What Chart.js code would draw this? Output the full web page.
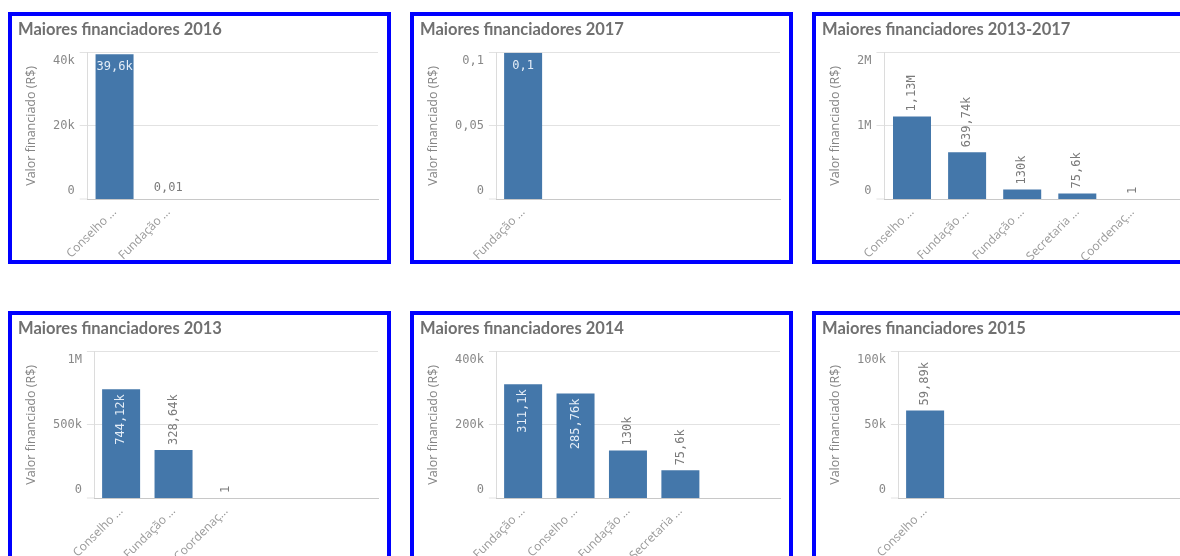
<!DOCTYPE html>
<html lang="pt-BR">
<head>
<meta charset="utf-8">
<title>Maiores financiadores</title>
<script src="https://cdn.jsdelivr.net/npm/chart.js@4.4.1/dist/chart.umd.min.js"></script>
<style>
  html, body { margin: 0; padding: 0; background: #fff; }
  body { width: 1180px; height: 556px; overflow: hidden; position: relative; }
  .panel { position: absolute; width: 383px; height: 252px; box-sizing: border-box; border: 4px solid #0000ff; background: #fff; }
  .panel canvas { display: block; }
</style>
</head>
<body>
  <div class="panel" style="left:8px;top:12px"><canvas id="c2016" width="375" height="244"></canvas></div>
  <div class="panel" style="left:410px;top:12px"><canvas id="c2017" width="375" height="244"></canvas></div>
  <div class="panel" style="left:812px;top:12px"><canvas id="cTotal" width="375" height="244"></canvas></div>
  <div class="panel" style="left:8px;top:311px"><canvas id="c2013" width="375" height="244"></canvas></div>
  <div class="panel" style="left:410px;top:311px"><canvas id="c2014" width="375" height="244"></canvas></div>
  <div class="panel" style="left:812px;top:311px"><canvas id="c2015" width="375" height="244"></canvas></div>

<script>
/* ---- data ---- */
const cats2016 = ['Conselho ...', 'Fundação ...'];
const vals2016 = [39600, 0.01];
const ticks2016 = [0, 20000, 40000];

const cats2017 = ['Fundação ...'];
const vals2017 = [0.1];
const ticks2017 = [0, 0.05, 0.1];

const catsTotal = ['Conselho ...', 'Fundação ...', 'Fundação ...', 'Secretaria ...', 'Coordenaç...'];
const valsTotal = [1129370, 639740, 130000, 75600, 1];
const ticksTotal = [0, 1000000, 2000000];

const cats2013 = ['Conselho ...', 'Fundação ...', 'Coordenaç...'];
const vals2013 = [744120, 328640, 1];
const ticks2013 = [0, 500000, 1000000];

const cats2014 = ['Fundação ...', 'Conselho ...', 'Fundação ...', 'Secretaria ...'];
const vals2014 = [311100, 285760, 130000, 75600];
const ticks2014 = [0, 200000, 400000];

const cats2015 = ['Conselho ...'];
const vals2015 = [59890];
const ticks2015 = [0, 50000, 100000];

const BAR_COLOR = '#4477aa';
const MONO = '"DejaVu Sans Mono"';

// 39600 -> "39,6k", 0.05 -> "0,05"
function fmt(v) {
  const r = x => String(Math.round(x * 100) / 100);
  let s;
  if (v >= 1e6) s = r(v / 1e6) + 'M';
  else if (v >= 1e3) s = r(v / 1e3) + 'k';
  else s = r(v);
  return s.replace('.', ',');
}

// value labels: inside the bar when there is no room above it
const valueLabels = {
  id: 'valueLabels',
  afterDatasetsDraw(chart) {
    const ctx = chart.ctx;
    const area = chart.chartArea;
    const meta = chart.getDatasetMeta(0);
    const pts = chart.data.datasets[0].data;
    ctx.save();
    ctx.font = '12px ' + MONO;
    const texts = pts.map(p => fmt(p.y));
    const widths = texts.map(t => ctx.measureText(t).width);
    const rotate = meta.data.some((bar, i) => widths[i] > bar.width);
    meta.data.forEach((bar, i) => {
      const need = rotate ? widths[i] + 10 : 20;
      const above = bar.y - area.top >= need;
      ctx.save();
      ctx.fillStyle = above ? '#7a7a7a' : '#e4edf7';
      ctx.textBaseline = 'middle';
      if (rotate) {
        ctx.translate(bar.x, above ? bar.y - 5 : bar.y + 5);
        ctx.rotate(-Math.PI / 2);
        ctx.textAlign = above ? 'left' : 'right';
        ctx.fillText(texts[i], 0, 0);
      } else {
        ctx.textAlign = 'center';
        ctx.fillText(texts[i], bar.x, above ? bar.y - 11 : bar.y + 13);
      }
      ctx.restore();
    });
    ctx.restore();
  }
};

function makeChart(id, title, cats, vals, ticks) {
  return new Chart(document.getElementById(id), {
    type: 'bar',
    data: {
      datasets: [{
        data: vals.map((v, i) => ({ x: i, y: v })),
        backgroundColor: BAR_COLOR,
        barThickness: 38,
        inflateAmount: 0
      }]
    },
    options: {
      responsive: false,
      animation: false,
      layout: { padding: { left: 6, right: 9, top: 0, bottom: 0 } },
      plugins: {
        legend: { display: false },
        tooltip: { enabled: false },
        title: {
          display: true, text: title, align: 'start', color: '#707070',
          font: { family: 'Lato', size: 16.5, weight: 'bold' },
          padding: { top: 4, bottom: 13 }
        }
      },
      scales: {
        x: {
          type: 'linear', min: -0.5, max: 4.9, offset: false,
          grid: { display: false, drawTicks: false },
          border: { display: true, color: '#c8c8c8' },
          ticks: {
            stepSize: 1, autoSkip: false, includeBounds: false,
            minRotation: 45, maxRotation: 45, padding: 6,
            color: '#999', font: { family: 'Open Sans', size: 12 },
            callback: v => Number.isInteger(v) ? (cats[v] || '') : ''
          },
          afterFit: s => { s.height = 61; }
        },
        y: {
          min: 0, max: ticks[ticks.length - 1],
          afterBuildTicks: s => { s.ticks = ticks.map(v => ({ value: v })); },
          // no grid line at 0 (the x border is there), so bars sit on the baseline
          grid: { color: '#e2e2e2', tickLength: 8, tickWidth: 1, tickColor: '#e2e2e2',
                  lineWidth: c => (c.tick && c.tick.value === 0 ? 0 : 1) },
          border: { color: '#dcdcdc' },
          ticks: {
            padding: 5, color: '#888',
            font: { family: 'DejaVu Sans Mono', size: 12, lineHeight: '17px' },
            // end labels sit inside the plot, like the original
            callback: (v, i, arr) => {
              const t = fmt(v);
              if (i === arr.length - 1) return ['', t];
              if (i === 0) return [t, ''];
              return t;
            }
          },
          title: {
            display: true, text: 'Valor financiado (R$)', color: '#858585',
            font: { family: 'Open Sans', size: 12.5 },
            padding: { top: 6, bottom: 9 }
          }
        }
      }
    },
    plugins: [valueLabels]
  });
}

makeChart('c2016', 'Maiores financiadores 2016', cats2016, vals2016, ticks2016);
makeChart('c2017', 'Maiores financiadores 2017', cats2017, vals2017, ticks2017);
makeChart('cTotal', 'Maiores financiadores 2013-2017', catsTotal, valsTotal, ticksTotal);
makeChart('c2013', 'Maiores financiadores 2013', cats2013, vals2013, ticks2013);
makeChart('c2014', 'Maiores financiadores 2014', cats2014, vals2014, ticks2014);
makeChart('c2015', 'Maiores financiadores 2015', cats2015, vals2015, ticks2015);
</script>
</body>
</html>
